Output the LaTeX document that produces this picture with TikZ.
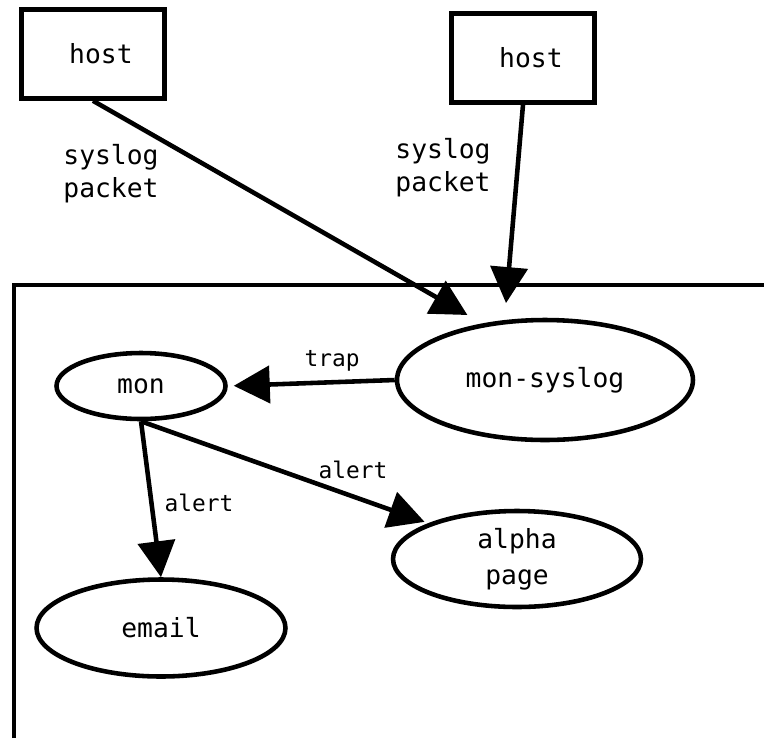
\documentclass[tikz,border=0pt]{standalone}
\usepackage{fontspec}
\setmonofont{DejaVu Sans Mono}
\usepackage{tikz}
\usetikzlibrary{arrows.meta,shapes.geometric}

\begin{document}
\begin{tikzpicture}[x=0.02cm,y=-0.02cm,line width=2.6pt,
   >={Triangle[length=0.72cm,width=0.74cm]},
   font=\ttfamily\fontsize{15}{18.8}\selectfont,
   hst/.style={rectangle,draw,minimum width=2.86cm,minimum height=1.78cm,inner sep=0pt},
   el/.style={ellipse,draw,inner sep=0pt},
   lbl/.style={font=\ttfamily\fontsize{13}{15}\selectfont,inner sep=0pt}]
  \useasboundingbox (0,0) rectangle (764,738);
  \node[hst] (h1) at (93,54) {\phantom{h}host};
  \node[hst] (h2) at (523,58) {\phantom{h}host};
  \node[align=center,inner sep=0pt] (p1) at (111,174) {syslog\\packet};
  \node[align=center,inner sep=0pt] (p2) at (443,168) {syslog\\packet};
  \draw (14,738) -- (14,285) -- (764,285);
  \node[el,minimum width=5.92cm,minimum height=2.4cm] (ms) at (545,380) {mon-syslog};
  \node[el,minimum width=3.38cm,minimum height=1.32cm] (mon) at (141,386) {mon};
  \node[el,minimum width=4.96cm,minimum height=1.92cm,align=center,
        font=\ttfamily\fontsize{15}{20.5}\selectfont] (ap) at (517,559) {alpha\\page};
  \node[el,minimum width=4.98cm,minimum height=1.94cm] (em) at (161,628) {email};
  \draw[->,shorten >=0.34cm] (h1.south) -- (ms.138);
  \draw[->,shorten >=0.34cm] (h2.south) -- (ms.124);
  \draw[->,shorten >=0.12cm] (ms.west) -- (mon.east);
  \draw[->] (mon.south) -- (em.north);
  \draw[->,shorten >=0.08cm] (mon.south) -- (ap.158);
  \node[lbl] (l1) at (332,361) {trap};
  \node[lbl] (l2) at (353,470) {alert};
  \node[lbl] (l3) at (199,503) {alert};
\end{tikzpicture}
\end{document}
